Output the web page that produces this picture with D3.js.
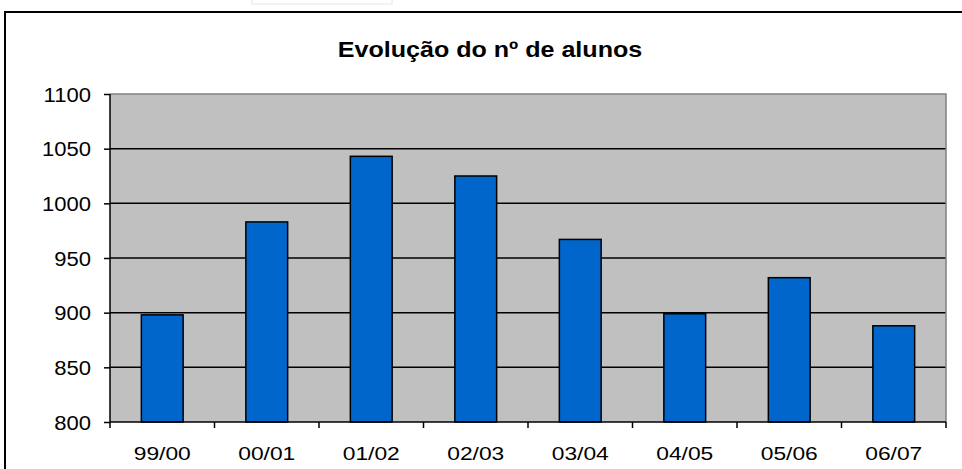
<!DOCTYPE html>
<html><head><meta charset="utf-8">
<script src="https://cdn.jsdelivr.net/npm/d3@7"></script>
<style>body{margin:0;background:#fff}svg{display:block}text{font-family:"Liberation Sans",Arial,sans-serif}</style>
</head><body>
<script>
const categories = ["99/00","00/01","01/02","02/03","03/04","04/05","05/06","06/07"];
const values = [898, 983, 1043, 1025, 967, 899, 932, 888];
const yTicks = [800, 850, 900, 950, 1000, 1050, 1100];
const title = "Evolução do nº de alunos";

const W = 962, H = 469;
const m = {left:110, right:16, top:94, bottom:47};
const svg = d3.select("body").append("svg").attr("width", W).attr("height", H);

// outer chart frame
svg.append("rect").attr("x",5).attr("y",12).attr("width",W+10).attr("height",H+10)
  .attr("fill","#fff").attr("stroke","#000").attr("stroke-width",2);
svg.append("rect").attr("x",252).attr("y",-2).attr("width",140).attr("height",6)
  .attr("fill","#fff").attr("stroke","#e6e6e6").attr("stroke-width",1);

const x = d3.scaleBand().domain(categories).range([m.left, W - m.right]).paddingInner(0.6).paddingOuter(0.3);
const xb = d3.scaleBand().domain(categories).range([m.left, W - m.right]);
const y = d3.scaleLinear().domain([800, 1100]).range([H - m.bottom, m.top]);

svg.append("rect").attr("x", m.left).attr("y", m.top).attr("width", W - m.right - m.left)
  .attr("height", y(800) - m.top).attr("fill", "#c0c0c0");

// gridlines
svg.append("g").selectAll("line").data(yTicks.filter(t => t > 800 && t < 1100)).join("line")
  .attr("x1", m.left).attr("x2", W - m.right).attr("y1", d => y(d)).attr("y2", d => y(d))
  .attr("stroke", "#000").attr("stroke-width", 1.5);
// top & right border gray
svg.append("path").attr("d", `M${m.left},${y(1100)}H${W-m.right}V${y(800)}`)
  .attr("fill","none").attr("stroke","#808080").attr("stroke-width",1.5);

// bars
svg.append("g").selectAll("rect").data(values).join("rect")
  .attr("x", (d,i) => x(categories[i])).attr("width", x.bandwidth())
  .attr("y", d => y(d)).attr("height", d => y(800) - y(d))
  .attr("fill", "#0066cc").attr("stroke", "#000").attr("stroke-width", 1.5);

// y axis
const ya = svg.append("g").attr("transform", `translate(${m.left},0)`)
  .call(d3.axisLeft(y).tickValues(yTicks).tickSize(6).tickFormat(""));
ya.select(".domain").attr("stroke","#000").attr("stroke-width",1.5).attr("d", `M0,${y(1100)}V${y(800)}`);
ya.selectAll(".tick line").attr("stroke","#000").attr("stroke-width",1.5);
svg.append("g").selectAll("text").data(yTicks).join("text")
  .attr("transform", d => `translate(91,${y(d) + 7.5}) scale(1.13,1)`)
  .attr("text-anchor","end").attr("font-size",19.5).attr("fill","#000").text(d => d);

// x axis
const xa = svg.append("g").attr("transform", `translate(0,${y(800)})`);
xa.append("line").attr("x1", m.left).attr("x2", W - m.right).attr("stroke","#000").attr("stroke-width",1.5);
const bounds = categories.map(c => xb(c)).concat([W - m.right]);
xa.selectAll("line.tk").data(bounds).join("line").attr("class","tk")
  .attr("x1", d => d).attr("x2", d => d).attr("y1", 0).attr("y2", 6)
  .attr("stroke","#000").attr("stroke-width",1.5);
xa.selectAll("text").data(categories).join("text")
  .attr("transform", d => `translate(${xb(d) + xb.bandwidth()/2},38) scale(1.2,1)`)
  .attr("text-anchor","middle").attr("font-size",19).attr("fill","#000").text(d => d);

svg.append("text").attr("transform", "translate(490,56.5) scale(1.14,1)").attr("text-anchor","middle")
  .attr("font-size", 22).attr("font-weight","bold").text(title);
</script>
</body></html>
